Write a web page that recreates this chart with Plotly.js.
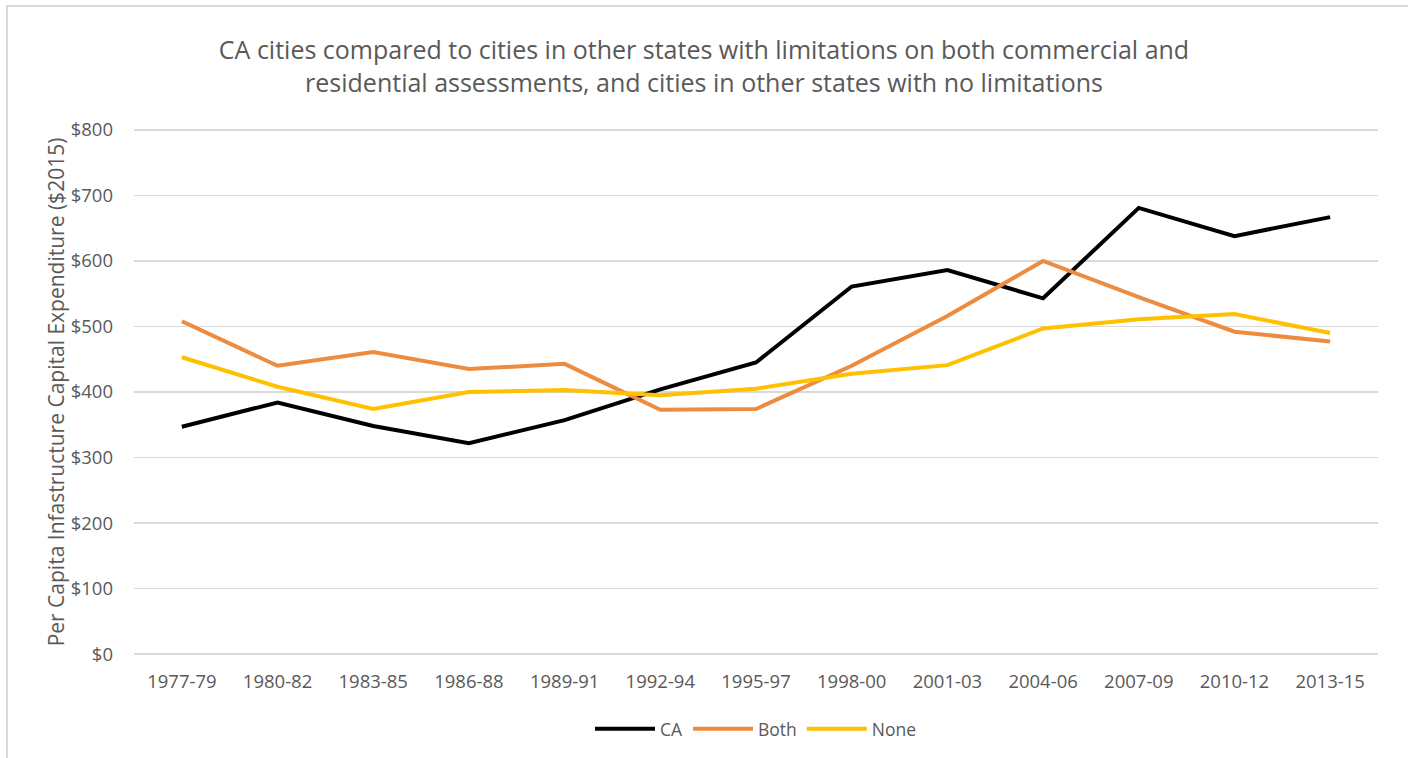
<!DOCTYPE html>
<html>
<head>
<meta charset="utf-8">
<script src="https://cdn.plot.ly/plotly-3.0.1.min.js"></script>
<style>html,body{margin:0;padding:0;background:#fff;}#chart{width:1408px;height:758px;}</style>
</head>
<body>
<div id="chart"></div>
<script>
const periods = ["1977-79","1980-82","1983-85","1986-88","1989-91","1992-94","1995-97","1998-00","2001-03","2004-06","2007-09","2010-12","2013-15"];
const caValues   = [347, 384, 348, 322, 357, 404, 445, 561, 586, 543, 681, 638, 667];
const bothValues = [508, 440, 461, 435, 443, 373, 374, 440, 516, 600, 545, 492, 477];
const noneValues = [453, 408, 374, 400, 403, 395, 405, 428, 441, 497, 511, 519, 490];
const yTickVals = [0, 100, 200, 300, 400, 500, 600, 700, 800];
const yTickText = ["$0","$100","$200","$300","$400","$500","$600","$700","$800"];

const fontFam = "'Open Sans', 'Liberation Sans', sans-serif";
const grey = "#595959";

const traces = [
  {x: periods, y: caValues, name: "CA", type: "scatter", mode: "lines", line: {color: "#000000", width: 4}},
  {x: periods, y: bothValues, name: "Both", type: "scatter", mode: "lines", line: {color: "#ED8B3F", width: 4}},
  {x: periods, y: noneValues, name: "None", type: "scatter", mode: "lines", line: {color: "#FFC000", width: 4}}
];

// gridlines at the range ends (Plotly hides them at the plot edges)
const edgeGrid = [yTickVals[0], yTickVals[yTickVals.length - 1]].map(v => ({
  type: "line", xref: "paper", yref: "y", x0: 0, x1: 1, y0: v, y1: v,
  line: {color: "#d9d9d9", width: 1.5}, layer: "below"
}));

const layout = {
  width: 1408, height: 758,
  margin: {l: 134, r: 30, t: 128, b: 102, autoexpand: false},
  paper_bgcolor: "#ffffff", plot_bgcolor: "#ffffff",
  font: {family: fontFam, color: grey, size: 17},
  title: {
    text: "CA cities compared to cities in other states with limitations on both commercial and<br>residential assessments, and cities in other states with no limitations",
    font: {family: fontFam, size: 25, color: grey},
    x: 0.5, xanchor: "center", y: 0.922, yanchor: "top"
  },
  xaxis: {
    type: "category", range: [-0.5, 12.5],
    showgrid: false, zeroline: false, showline: false,
    ticks: "", ticklabelstandoff: 12, tickfont: {size: 18.5, color: grey}
  },
  yaxis: {
    range: [-3, 803], tickvals: yTickVals, ticktext: yTickText,
    showgrid: true, gridcolor: "#d9d9d9", gridwidth: 1.5,
    zeroline: false, showline: false, ticks: "", ticklen: 0,
    ticklabelstandoff: 20,
    tickfont: {size: 18.5, color: grey},
    title: {text: "Per Capita Infastructure Capital Expenditure ($2015)", font: {size: 21, color: grey}, standoff: 0}
  },
  legend: {
    orientation: "h", x: 0.5, xanchor: "center", y: -0.104, yanchor: "top",
    font: {size: 17.5, color: grey}, itemwidth: 60, tracegroupgap: 0
  },
  shapes: [
    {type: "rect", xref: "paper", yref: "paper", x0: -0.1021, x1: 1.2, y0: -0.6, y1: 1.2309,
     line: {color: "#d9d9d9", width: 2}, fillcolor: "rgba(0,0,0,0)", layer: "below"}
  ].concat(edgeGrid),
  showlegend: true
};

Plotly.newPlot("chart", traces, layout, {displayModeBar: false, staticPlot: true});
</script>
</body>
</html>
